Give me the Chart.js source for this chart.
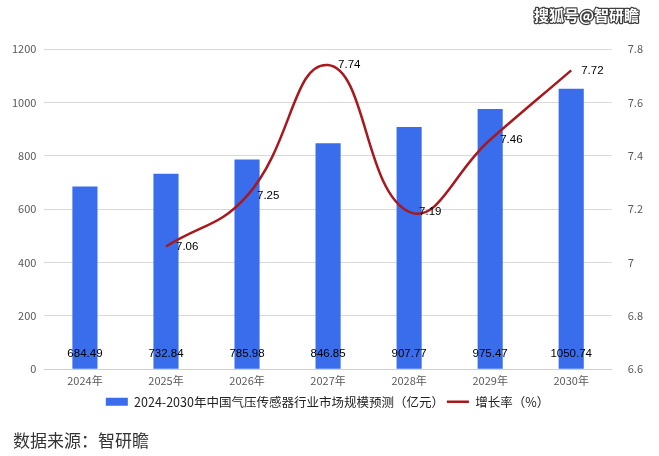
<!DOCTYPE html>
<html><head><meta charset="utf-8">
<script src="https://cdn.jsdelivr.net/npm/chart.js@4/dist/chart.umd.min.js"></script>
<style>html,body{margin:0;padding:0;background:#fff}#wrap{width:659px;height:456px}</style>
</head><body><div id="wrap"><canvas id="c" width="659" height="456"></canvas></div>
<script>
const categories = ['2024年','2025年','2026年','2027年','2028年','2029年','2030年'];
const marketSize = [684.49,732.84,785.98,846.85,907.77,975.47,1050.74];
const growthRate = [null,7.06,7.25,7.74,7.19,7.46,7.72];
const leftTicks = [0,200,400,600,800,1000,1200];
const rightTicks = [6.6,6.8,7,7.2,7.4,7.6,7.8];
const barLabel = '2024-2030年中国气压传感器行业市场规模预测（亿元）';
const lineLabel = '增长率（%）';

const FONT = '"Noto Sans CJK SC","Noto Sans",sans-serif';

const labelPlugin = {
  id: 'labels',
  afterDatasetsDraw(chart) {
    const ctx = chart.ctx;
    ctx.save();
    ctx.font = '11.5px "Liberation Sans", "Noto Sans", sans-serif';
    ctx.fillStyle = '#000';
    ctx.textBaseline = 'middle';
    const m0 = chart.getDatasetMeta(0);
    const yb = chart.scales.y.getPixelForValue(0);
    ctx.textAlign = 'center';
    m0.data.forEach((el, i) => {
      ctx.fillText(marketSize[i].toFixed(2), el.x, yb - 15);
    });
    const m1 = chart.getDatasetMeta(1);
    ctx.textAlign = 'left';
    m1.data.forEach((el, i) => {
      if (growthRate[i] == null) return;
      ctx.fillText(String(growthRate[i]), el.x + 10, el.y);
    });
    ctx.restore();
  },
  afterDraw(chart) {
    const ctx = chart.ctx;
    ctx.save();
    ctx.font = '17px ' + FONT;
    ctx.fillStyle = '#333';
    ctx.textBaseline = 'middle';
    ctx.textAlign = 'left';
    ctx.fillText('数据来源：智研瞻', 13, 441);
    ctx.font = 'bold 15px ' + FONT;
    ctx.lineWidth = 2.5;
    ctx.strokeStyle = 'rgba(30,30,30,0.85)';
    ctx.lineJoin = 'round';
    ctx.strokeText('搜狐号@智研瞻', 534, 15);
    ctx.fillStyle = '#fff';
    ctx.fillText('搜狐号@智研瞻', 534, 15);
    ctx.restore();
  }
};

new Chart(document.getElementById('c'), {
  data: {
    labels: categories,
    datasets: [
      {
        type: 'bar', label: barLabel, data: marketSize,
        backgroundColor: '#3A6DEB', yAxisID: 'y',
        barPercentage: 0.31, categoryPercentage: 1.0,
        pointStyle: 'rect', order: 2
      },
      {
        type: 'line', label: lineLabel, data: growthRate,
        borderColor: '#A8191E', backgroundColor: '#A8191E', borderWidth: 2.5,
        yAxisID: 'y1', tension: 0.45, pointRadius: 0, spanGaps: false,
        pointStyle: 'line', order: 1
      }
    ]
  },
  options: {
    responsive: false, animation: false,
    layout: { padding: { top: 49, left: 4, right: 8, bottom: 38 } },
    plugins: {
      tooltip: { enabled: false },
      legend: {
        position: 'bottom',
        labels: {
          usePointStyle: true, pointStyleWidth: 22, boxHeight: 8,
          color: '#222', font: { family: FONT, size: 12.5 }, padding: 3,
          sort: (a, b) => a.datasetIndex - b.datasetIndex
        }
      }
    },
    scales: {
      x: {
        grid: { display: false, drawTicks: false },
        border: { color: '#d0d0d0' },
        ticks: { color: '#595959', font: { family: FONT, size: 11 }, padding: 5 }
      },
      y: {
        position: 'left', min: 0, max: 1200,
        afterBuildTicks: s => { s.ticks = leftTicks.map(v => ({ value: v })); },
        grid: { color: '#d9d9d9', drawTicks: false },
        border: { display: false },
        ticks: { color: '#595959', font: { family: FONT, size: 11 }, padding: 8,
          callback: v => String(v) }
      },
      y1: {
        position: 'right', min: 6.6, max: 7.8,
        afterBuildTicks: s => { s.ticks = rightTicks.map(v => ({ value: v })); },
        grid: { display: false },
        border: { display: false },
        ticks: { color: '#595959', font: { family: FONT, size: 11 }, padding: 8,
          callback: v => String(Math.round(v * 10) / 10) }
      }
    }
  },
  plugins: [labelPlugin]
});
</script></body></html>
